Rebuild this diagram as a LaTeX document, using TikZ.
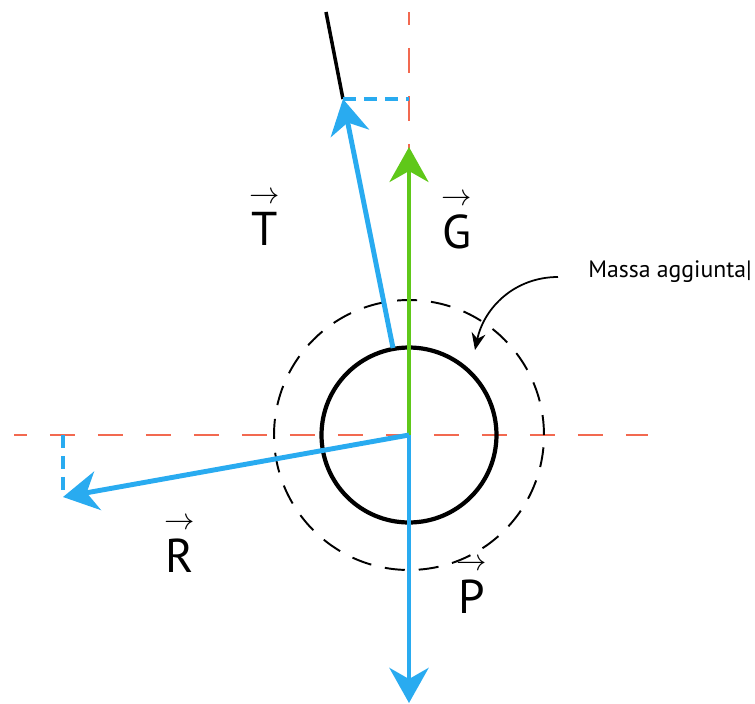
\documentclass[tikz,border=0pt]{standalone}
\usepackage{amsmath}
\usepackage{fontspec}
\setmainfont{PT Sans}
\usepackage{tikz}
\usetikzlibrary{arrows.meta}
\definecolor{forceblue}{RGB}{41,171,240}
\definecolor{forcegreen}{RGB}{95,200,25}
\definecolor{axisred}{RGB}{242,105,80}
\newcommand{\vlab}[1]{$\overset{\rightarrow}{\text{#1}}$}
\tikzset{
  bigtip/.style={-{Stealth[length=0.7cm, width=0.78cm, inset=0.22cm]}},
  refline/.style={axisred, line width=1.6pt, dash pattern=on 0.5cm off 0.46cm},
  projline/.style={forceblue, line width=2pt, dash pattern=on 0.26cm off 0.16cm},
  veclabel/.style={anchor=base, inner sep=0pt, font=\fontsize{27}{30}\selectfont}
}

\begin{document}
\begin{tikzpicture}[x=0.02cm, y=-0.02cm]
  \useasboundingbox (0,0) rectangle (755,704);
  \coordinate (O) at (409,435);
  \coordinate (topaxis) at (409,12);
  \coordinate (leftaxis) at (14,435);
  \coordinate (rightaxis) at (648,435);
  \coordinate (ropetop) at (326,12);
  \coordinate (Ttip) at (343,99);
  \coordinate (Tbase) at (393,348);
  \coordinate (Gtip) at (409,147);
  \coordinate (Ptip) at (409,703);
  \coordinate (Rtip) at (63,497);
  \coordinate (Tfoot) at (409,99);
  \coordinate (Rfoot) at (63,435);
  \draw[refline, dash phase=0.24cm] (topaxis) -- (O);
  \draw[refline, dash phase=0.24cm] (leftaxis) -- (rightaxis);
  \node[draw, circle, minimum size=5.4cm, line width=1.1pt, dash pattern=on 0.4cm off 0.28cm] (added) at (O) {};
  \node[draw, circle, minimum size=3.5cm, line width=2.4pt] (mass) at (O) {};
  \draw[line width=2pt] (ropetop) -- (Ttip);
  \draw[projline] (Ttip) -- (Tfoot);
  \draw[projline] (Rfoot) -- (Rtip);
  \draw[bigtip, forcegreen, line width=2.2pt] (O) -- (Gtip);
  \draw[bigtip, forceblue, line width=2.8pt] (Tbase) -- (Ttip);
  \draw[bigtip, forceblue, line width=2.8pt] (O) -- (Ptip);
  \draw[bigtip, forceblue, line width=2.8pt] (O) -- (Rtip);
  \node[veclabel] (Tlab) at (265,245) {\vlab{T}};
  \node[veclabel] (Glab) at (457,248) {\vlab{G}};
  \node[veclabel] (Rlab) at (180,572) {\vlab{R}};
  \node[veclabel] (Plab) at (472,613) {\vlab{P}};
  \node[anchor=base west, inner sep=0pt, font=\fontsize{13.5}{16}\selectfont] (note) at (588,277) {Massa aggiunta|};
  \draw[-{Stealth[length=0.34cm, width=0.28cm]}, line width=1pt] (558,277) to[out=180, in=78] (475,350);
\end{tikzpicture}
\end{document}
